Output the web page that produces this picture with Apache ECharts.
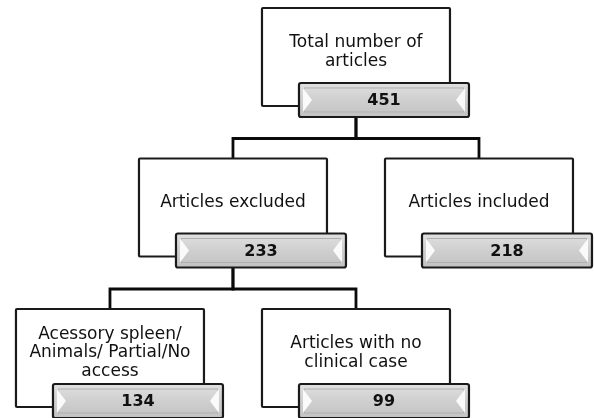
<!DOCTYPE html>
<html><head><meta charset="utf-8">
<script src="https://cdn.jsdelivr.net/npm/echarts@6/dist/echarts.min.js"></script>
<style>html,body{margin:0;padding:0;background:#fff}#c{width:594px;height:418px}</style>
</head><body><div id="c"></div>
<script>
const nodeLabels = ['Total number of\narticles', 'Articles excluded', 'Articles included', 'Acessory spleen/\nAnimals/ Partial/No\naccess', 'Articles with no\nclinical case'];
const nodeValues = [451, 233, 218, 134, 99];
const nodeColumn = [2, 1, 3, 0, 2];
const nodeLevel = [0, 1, 1, 2, 2];
const nodeParent = [-1, 0, 0, 1, 1];

const BOX_W = 188, BOX_H = 98, BAR_DX = 37, BAR_DY = 75, BAR_W = 170, BAR_H = 34;

const nodeData = nodeLabels.map((_, i) => [nodeColumn[i], nodeLevel[i], i]);
const edgeData = [];
nodeParent.forEach((p, i) => { if (p >= 0) edgeData.push([nodeColumn[i], nodeLevel[i], nodeColumn[p], nodeLevel[p]]); });

const chart = echarts.init(document.getElementById('c'), null, {renderer: 'canvas'});
chart.setOption({
  animation: false,
  grid: {left: 0, right: 0, top: 0, bottom: 0, containLabel: false},
  xAxis: {type: 'value', min: -0.894, max: 3.935, show: false},
  yAxis: {type: 'value', min: -0.053, max: 2.724, inverse: true, show: false},
  series: [
    {
      type: 'custom', z: 1, data: edgeData,
      renderItem: function (params, api) {
        const c = api.coord([api.value(0), api.value(1)]);
        const p = api.coord([api.value(2), api.value(3)]);
        const midY = c[1] - 20;
        return {
          type: 'polyline',
          shape: {points: [[p[0], p[1] + BAR_DY + BAR_H], [p[0], midY], [c[0], midY], [c[0], c[1]]]},
          style: {stroke: '#0a0a0a', lineWidth: 2.8, fill: null}
        };
      }
    },
    {
      type: 'custom', z: 2, data: nodeData,
      renderItem: function (params, api) {
        const idx = api.value(2);
        const p = api.coord([api.value(0), api.value(1)]);
        const bx = p[0] - BOX_W / 2, by = p[1];
        const rx = bx + BAR_DX, ry = by + BAR_DY;
        return {
          type: 'group',
          children: [
            {type: 'rect', shape: {x: bx, y: by, width: BOX_W, height: BOX_H, r: 1},
             style: {fill: '#fff', stroke: '#1a1a1a', lineWidth: 2.2}},
            {type: 'text', style: {text: nodeLabels[idx], x: p[0], y: by + 44, align: 'center', verticalAlign: 'middle',
              fontSize: 17, fontFamily: 'DejaVu Sans', fill: '#111', lineHeight: 18.5}},
            {type: 'rect', shape: {x: rx, y: ry, width: BAR_W, height: BAR_H, r: 2},
             style: {fill: new echarts.graphic.LinearGradient(0, 0, 0, 1, [{offset: 0, color: '#e2e2e2'}, {offset: 0.5, color: '#cfcfcf'}, {offset: 1, color: '#c2c2c2'}]),
               stroke: '#1a1a1a', lineWidth: 2.2}},
            {type: 'rect', shape: {x: rx + 5, y: ry + 5, width: BAR_W - 10, height: BAR_H - 10},
             style: {fill: null, stroke: '#b0b0b0', lineWidth: 1}},
            {type: 'polygon', shape: {points: [[rx + 4, ry + 5], [rx + 13, ry + BAR_H / 2], [rx + 4, ry + BAR_H - 5]]},
             style: {fill: '#fafafa'}},
            {type: 'polygon', shape: {points: [[rx + BAR_W - 4, ry + 5], [rx + BAR_W - 13, ry + BAR_H / 2], [rx + BAR_W - 4, ry + BAR_H - 5]]},
             style: {fill: '#fafafa'}},
            {type: 'text', style: {text: String(nodeValues[idx]), x: rx + BAR_W / 2, y: ry + BAR_H / 2 + 1, align: 'center', verticalAlign: 'middle',
              fontSize: 16, fontWeight: 'bold', fontFamily: 'DejaVu Sans', fill: '#111'}}
          ]
        };
      }
    }
  ]
});
</script>
</body></html>
